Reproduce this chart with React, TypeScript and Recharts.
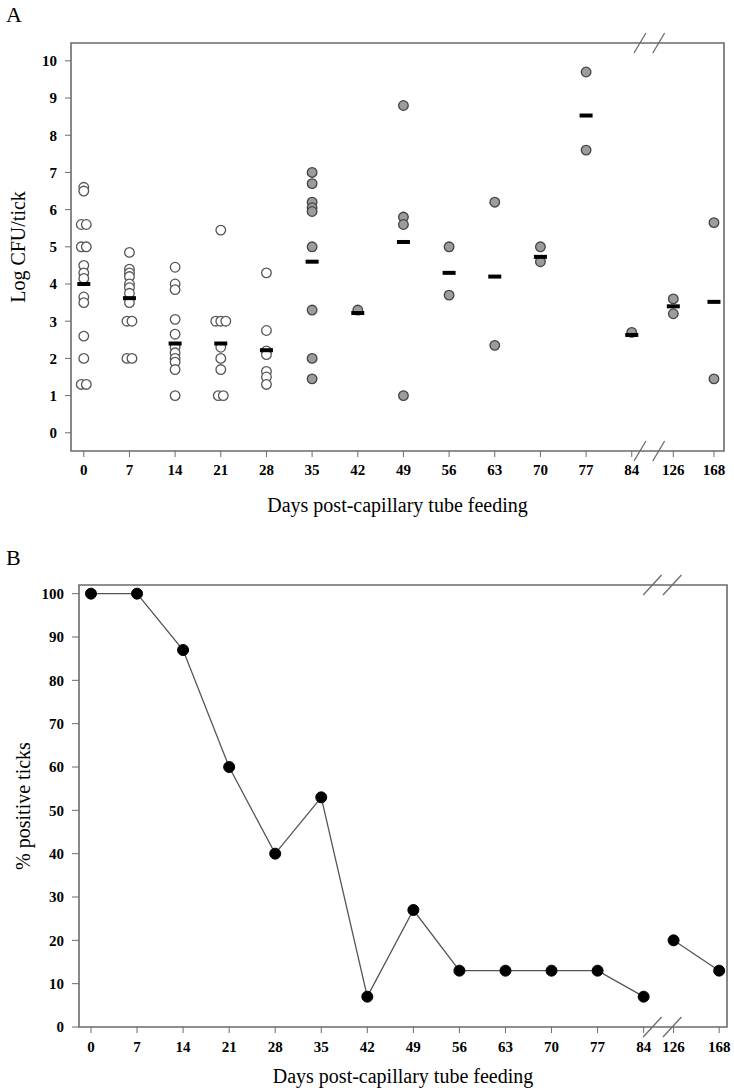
import React from 'react';
import {
  ComposedChart,
  LineChart,
  Scatter,
  Line,
  XAxis,
  YAxis,
  ReferenceArea,
  ReferenceLine,
} from 'recharts';

const FONT = '"Liberation Serif", "Times New Roman", serif';
const FRAME = '#6b6b6b';
const LINE = '#555';

// sampling days (x axis has a break between 84 and 126)
const DAYS = [0, 7, 14, 21, 28, 35, 42, 49, 56, 63, 70, 77, 84, 126, 168];

// panel A: log CFU per tick, one list per day
const CFU: number[][] = [
  [6.6, 6.5, 5.6, 5.6, 5.0, 5.0, 4.5, 4.3, 4.15, 3.65, 3.5, 2.6, 2.0, 1.3, 1.3],
  [4.85, 4.4, 4.3, 4.2, 4.0, 3.9, 3.75, 3.5, 3.0, 3.0, 2.0, 2.0],
  [4.45, 4.0, 3.85, 3.05, 2.65, 2.3, 2.15, 2.0, 1.9, 1.7, 1.0],
  [5.45, 3.0, 3.0, 3.0, 2.3, 2.0, 1.7, 1.0, 1.0],
  [4.3, 2.75, 2.2, 2.1, 1.65, 1.5, 1.3],
  [7.0, 6.7, 6.2, 6.05, 5.95, 5.0, 3.3, 2.0, 1.45],
  [3.3],
  [8.8, 5.8, 5.6, 1.0],
  [5.0, 3.7],
  [6.2, 2.35],
  [5.0, 4.6],
  [9.7, 7.6],
  [2.7],
  [3.6, 3.2],
  [5.65, 1.45],
];
const MEAN_CFU = [4.0, 3.62, 2.4, 2.4, 2.22, 4.6, 3.22, 5.13, 4.3, 4.2, 4.73, 8.53, 2.63, 3.4, 3.52];
const FILLED_FROM_DAY = 35;
const CFU_TICKS = [0, 1, 2, 3, 4, 5, 6, 7, 8, 9, 10];

// panel B: % positive ticks
const POSITIVE_PCT = [100, 100, 87, 60, 40, 53, 7, 27, 13, 13, 13, 13, 7, 20, 13];
const PCT_TICKS = [0, 10, 20, 30, 40, 50, 60, 70, 80, 90, 100];

// broken axis: weekly steps up to day 84, then compressed
const makeScale = (late: Record<number, number>) => (day: number) =>
  day <= 84 ? day / 7 : late[day];
const posA = makeScale({ 126: 12.91, 168: 13.8 });
const posB = makeScale({ 126: 12.65, 168: 13.64 });

const X_DOMAIN_A: [number, number] = [-0.28, 14.02];
const Y_DOMAIN_A: [number, number] = [-0.49, 10.48];
const X_DOMAIN_B: [number, number] = [-0.26, 13.81];
const Y_DOMAIN_B: [number, number] = [0, 102];

// small horizontal spread for identical values on the same day
function spread(values: number[]): number[] {
  return values.map((v, i) => {
    const n = values.filter((w) => w === v).length;
    const k = values.slice(0, i).filter((w) => w === v).length;
    return (k - (n - 1) / 2) * 0.11;
  });
}

const openPts: { x: number; y: number }[] = [];
const filledPts: { x: number; y: number }[] = [];
CFU.forEach((vals, d) => {
  const off = spread(vals);
  vals.forEach((v, i) => {
    const p = { x: posA(DAYS[d]) + off[i], y: v };
    (DAYS[d] >= FILLED_FROM_DAY ? filledPts : openPts).push(p);
  });
});
const meanPts = MEAN_CFU.map((m, d) => ({ x: posA(DAYS[d]), y: m }));

const lastEarly = DAYS.indexOf(84);
const pctEarly = DAYS.slice(0, lastEarly + 1).map((d, i) => ({ x: posB(d), y: POSITIVE_PCT[i] }));
const pctLate = DAYS.slice(lastEarly + 1).map((d, i) => ({
  x: posB(d),
  y: POSITIVE_PCT[lastEarly + 1 + i],
}));

const tickStyle = { fontFamily: FONT, fontSize: 15, fontWeight: 'bold' as const, fill: '#000' };
const titleStyle = { fontFamily: FONT, fontSize: 20, fill: '#000' };

const OpenDot = (p: any) => (
  <circle cx={p.cx} cy={p.cy} r={4.8} fill="#fff" stroke="#555" strokeWidth={1.3} />
);
const FilledDot = (p: any) => (
  <circle cx={p.cx} cy={p.cy} r={4.8} fill="#9c9c9c" stroke="#444" strokeWidth={1.3} />
);
const MeanBar = (p: any) => <rect x={p.cx - 6.5} y={p.cy - 2} width={13} height={4} fill="#000" />;

// "//" marks where the x axis is broken, on top and bottom edges
function breakMarks(centers: number[], edges: number[], dx: number, dy: number) {
  const out: React.ReactElement[] = [];
  centers.forEach((c, i) =>
    edges.forEach((e, j) =>
      out.push(
        <ReferenceLine
          key={`brk-${i}-${j}`}
          segment={[
            { x: c - dx, y: e - dy },
            { x: c + dx, y: e + dy },
          ]}
          stroke={FRAME}
          strokeWidth={1.3}
          ifOverflow="visible"
        />
      )
    )
  );
  return out;
}

const dayLabel = (scale: (d: number) => number) => (v: number) => {
  const d = DAYS.find((day) => Math.abs(scale(day) - v) < 1e-6);
  return d === undefined ? '' : String(d);
};

const PanelA = () => (
  <ComposedChart width={734} height={525} margin={{ top: 43, right: 10, bottom: 0, left: 0 }}>
    <XAxis
      type="number"
      dataKey="x"
      domain={X_DOMAIN_A}
      allowDataOverflow
      ticks={DAYS.map(posA)}
      interval={0}
      tickFormatter={dayLabel(posA)}
      tick={tickStyle}
      tickLine={{ stroke: FRAME }}
      tickSize={6}
      tickMargin={7}
      axisLine={false}
      height={74}
      label={{ value: 'Days post-capillary tube feeding', position: 'insideBottom', offset: 13, style: titleStyle }}
    />
    <YAxis
      type="number"
      dataKey="y"
      domain={Y_DOMAIN_A}
      allowDataOverflow
      ticks={CFU_TICKS}
      interval={0}
      tick={tickStyle}
      tickLine={{ stroke: FRAME }}
      tickSize={6}
      tickMargin={8}
      axisLine={false}
      width={71}
      label={{ value: 'Log CFU/tick', angle: -90, position: 'insideLeft', offset: 18, style: { ...titleStyle, textAnchor: 'middle' } }}
    />
    <ReferenceArea
      x1={X_DOMAIN_A[0]}
      x2={X_DOMAIN_A[1]}
      y1={Y_DOMAIN_A[0]}
      y2={Y_DOMAIN_A[1]}
      fill="none"
      stroke={FRAME}
      strokeWidth={1.6}
      ifOverflow="visible"
    />
    {breakMarks([12.18, 12.59], Y_DOMAIN_A, 0.13, 0.27)}
    <Scatter data={openPts} shape={OpenDot} isAnimationActive={false} />
    <Scatter data={filledPts} shape={FilledDot} isAnimationActive={false} />
    <Scatter data={meanPts} shape={MeanBar} isAnimationActive={false} />
  </ComposedChart>
);

const PanelB = () => (
  <LineChart width={734} height={550} margin={{ top: 45, right: 7, bottom: 0, left: 0 }}>
    <XAxis
      type="number"
      dataKey="x"
      domain={X_DOMAIN_B}
      allowDataOverflow
      ticks={DAYS.map(posB)}
      interval={0}
      tickFormatter={dayLabel(posB)}
      tick={tickStyle}
      tickLine={{ stroke: FRAME }}
      tickSize={6}
      tickMargin={8}
      axisLine={false}
      height={63}
      label={{ value: 'Days post-capillary tube feeding', position: 'insideBottom', offset: 7, style: titleStyle }}
    />
    <YAxis
      type="number"
      dataKey="y"
      domain={Y_DOMAIN_B}
      allowDataOverflow
      ticks={PCT_TICKS}
      interval={0}
      tick={tickStyle}
      tickLine={{ stroke: FRAME }}
      tickSize={7}
      tickMargin={8}
      axisLine={false}
      width={79}
      label={{ value: '% positive ticks', angle: -90, position: 'insideLeft', offset: 23, style: { ...titleStyle, textAnchor: 'middle' } }}
    />
    <ReferenceArea
      x1={X_DOMAIN_B[0]}
      x2={X_DOMAIN_B[1]}
      y1={Y_DOMAIN_B[0]}
      y2={Y_DOMAIN_B[1]}
      fill="none"
      stroke={FRAME}
      strokeWidth={1.6}
      ifOverflow="visible"
    />
    {breakMarks([12.19, 12.62], Y_DOMAIN_B, 0.2, 2.3)}
    <Line
      data={pctEarly}
      dataKey="y"
      stroke={LINE}
      strokeWidth={1.3}
      dot={{ r: 5.5, fill: '#000', stroke: '#000', strokeWidth: 1 }}
      isAnimationActive={false}
    />
    <Line
      data={pctLate}
      dataKey="y"
      stroke={LINE}
      strokeWidth={1.3}
      dot={{ r: 5.5, fill: '#000', stroke: '#000', strokeWidth: 1 }}
      isAnimationActive={false}
    />
  </LineChart>
);

const panelLetter: React.CSSProperties = {
  position: 'absolute',
  left: 6,
  fontFamily: FONT,
  fontSize: 22,
  lineHeight: '22px',
  color: '#000',
};

export default function App() {
  return (
    <div style={{ position: 'absolute', left: 0, top: 0, width: 734, height: 1090, background: '#fff' }}>
      <div style={{ position: 'absolute', left: 0, top: 0 }}>
        <PanelA />
      </div>
      <div style={{ position: 'absolute', left: 0, top: 540 }}>
        <PanelB />
      </div>
      <div style={{ ...panelLetter, top: 4 }}>A</div>
      <div style={{ ...panelLetter, top: 547 }}>B</div>
    </div>
  );
}
